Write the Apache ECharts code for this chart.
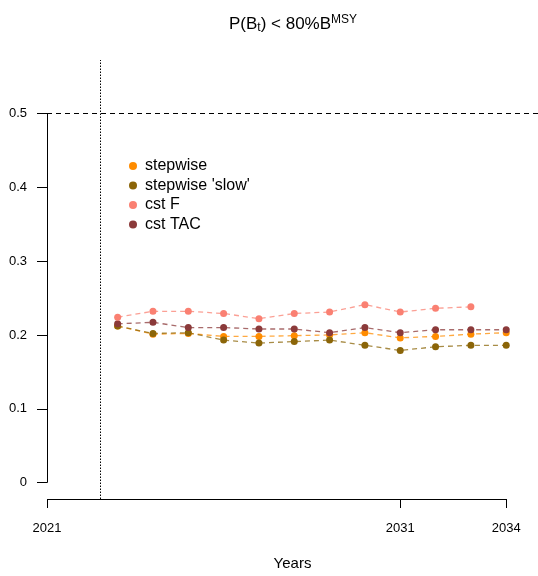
<!DOCTYPE html>
<html>
<head>
<meta charset="utf-8">
<script src="https://cdn.jsdelivr.net/npm/echarts@6/dist/echarts.min.js"></script>
<style>
  html, body { margin: 0; padding: 0; background: #fff; }
  #chart { width: 538px; height: 576px; }
</style>
</head>
<body>
<div id="chart"></div>
<script>
// Projection years and probability that biomass falls below 80% of B_MSY
const years = [2023, 2024, 2025, 2026, 2027, 2028, 2029, 2030, 2031, 2032, 2033, 2034];

const stepwise     = [0.212, 0.201, 0.202, 0.198, 0.198, 0.199, 0.200, 0.203, 0.196, 0.198, 0.201, 0.203];
const stepwiseSlow = [0.212, 0.202, 0.203, 0.193, 0.189, 0.191, 0.193, 0.186, 0.179, 0.184, 0.186, 0.186];
const cstF         = [0.224, 0.232, 0.232, 0.229, 0.222, 0.229, 0.231, 0.241, 0.231, 0.236, 0.238];
const cstTAC       = [0.215, 0.217, 0.210, 0.210, 0.208, 0.208, 0.203, 0.210, 0.203, 0.207, 0.207, 0.207];

const seriesNames = ['stepwise', "stepwise 'slow'", 'cst F', 'cst TAC'];
const seriesColors = ['#FF8C00', '#8B6508', '#FA8072', '#8B3A3A'];

const xTickLabels = [2021, 2031, 2034];
const yTickLabels = [0, 0.1, 0.2, 0.3, 0.4, 0.5];
const threshold = 0.5;        // reference probability level
const assessmentYear = 2022.5; // start of projection period

const xMin = 2021, xMax = 2034.9;
const yMin = -0.022, yMax = 0.572;

const FONT = '"Liberation Sans", Arial, sans-serif';

function pairs(values) {
  return values.map((v, i) => [years[i], v]);
}

const seriesData = [stepwise, stepwiseSlow, cstF, cstTAC];
const drawOrder = [0, 1, 3, 2];

const lineSeries = drawOrder.map(k => ({
  name: seriesNames[k],
  type: 'line',
  data: pairs(seriesData[k]),
  symbol: 'circle',
  symbolSize: 7,
  itemStyle: { color: seriesColors[k] },
  lineStyle: { color: seriesColors[k], width: 1.3, type: [5, 4], opacity: 0.75 },
  emphasis: { disabled: true },
  z: 3
}));

// Axis lines (R style, spanning only the tick range) and reference lines
const frame = {
  name: 'frame',
  type: 'line',
  data: [],
  silent: true,
  markLine: {
    silent: true,
    symbol: ['none', 'none'],
    label: { show: false },
    animation: false,
    data: [
      [{ coord: [xMin, 0], lineStyle: { color: '#000', width: 1, type: 'solid' } },
       { coord: [xMin, threshold] }],
      [{ coord: [xTickLabels[0], yMin], lineStyle: { color: '#000', width: 1, type: 'solid' } },
       { coord: [xTickLabels[xTickLabels.length - 1], yMin] }],
      { yAxis: threshold, lineStyle: { color: '#000', width: 1, type: [5, 4] } },
      { xAxis: assessmentYear, lineStyle: { color: '#000', width: 1, type: [1.5, 1.5] } }
    ]
  }
};

const chart = echarts.init(document.getElementById('chart'), null, { renderer: 'canvas' });
chart.setOption({
  animation: false,
  backgroundColor: '#fff',
  title: {
    text: 'P(B{sub|t}) < 80%B{sup|MSY}',
    left: 224,
    top: 9,
    textStyle: {
      fontFamily: FONT,
      fontSize: 17,
      fontWeight: 'normal',
      color: '#000',
      rich: {
        sub: { fontFamily: FONT, fontSize: 12, color: '#000', verticalAlign: 'bottom', padding: [8, 0, 0, 0] },
        sup: { fontFamily: FONT, fontSize: 12, color: '#000', verticalAlign: 'top', padding: [0, 0, 8, 0] }
      }
    }
  },
  legend: {
    data: seriesNames,
    orient: 'vertical',
    left: 124,
    top: 153,
    itemWidth: 10,
    itemHeight: 8,
    itemGap: 3.5,
    icon: 'circle',
    textStyle: { fontFamily: FONT, fontSize: 16, color: '#000', padding: [0, 0, 0, 2] },
    selectedMode: false
  },
  grid: { left: 47, right: 0, top: 60, bottom: 77, containLabel: false, outerBoundsMode: 'none' },
  xAxis: {
    type: 'value',
    min: xMin,
    max: xMax,
    name: 'Years',
    nameLocation: 'middle',
    nameGap: 57,
    nameTextStyle: { fontFamily: FONT, fontSize: 15, color: '#000' },
    axisLine: { show: false, onZero: false },
    axisTick: { show: true, length: 9, customValues: xTickLabels, lineStyle: { color: '#000' } },
    axisLabel: { customValues: xTickLabels, margin: 23, fontFamily: FONT, fontSize: 13, color: '#000', formatter: v => String(v) },
    splitLine: { show: false }
  },
  yAxis: {
    type: 'value',
    min: yMin,
    max: yMax,
    axisLine: { show: false, onZero: false },
    axisTick: { show: true, length: 10, customValues: yTickLabels, lineStyle: { color: '#000' } },
    axisLabel: { customValues: yTickLabels, margin: 20, fontFamily: FONT, fontSize: 13, color: '#000', formatter: v => String(v) },
    splitLine: { show: false }
  },
  series: [frame].concat(lineSeries)
});
</script>
</body>
</html>
